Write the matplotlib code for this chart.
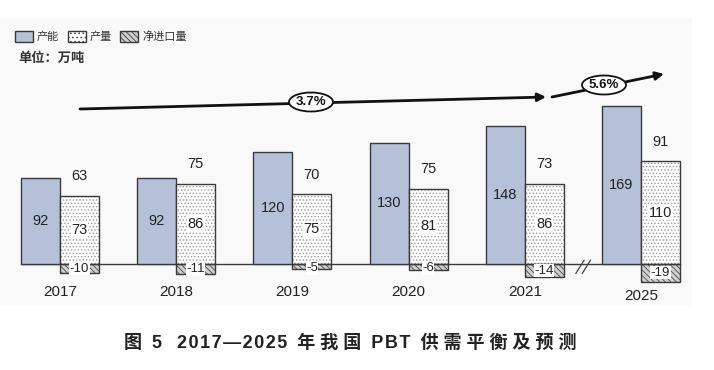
import numpy as np
import matplotlib
matplotlib.use('Agg')
import matplotlib.pyplot as plt
from matplotlib.patches import Ellipse, Rectangle

plt.rcParams['font.family'] = ['Liberation Sans', 'Noto Sans CJK SC', 'DejaVu Sans']
plt.rcParams['hatch.linewidth'] = 0.6

# data
years = ['2017', '2018', '2019', '2020', '2021', '2025']
capacity = [92, 92, 120, 130, 148, 169]       # 产能
output = [73, 86, 75, 81, 86, 110]            # 产量
net_import = [-10, -11, -5, -6, -14, -19]     # 净进口量
consumption = [63, 75, 70, 75, 73, 91]
cagr_labels = ['3.7%', '5.6%']

W, H = 714, 370
fig = plt.figure(figsize=(W / 100, H / 100), dpi=100)
fig.patch.set_facecolor('white')

ax = fig.add_axes([0, 0, 1, 1])
ax.set_facecolor('none')
# pixel -> data mapping: group boundary at 60 + 116.2*i px, baseline 264 px, 0.932 px per unit
x0, dx, base, k = 60, 116.2, 264, 0.932
ax.set_xlim(-x0 / dx, (W - x0) / dx)
ax.set_ylim(-(H - base) / k, base / k)
ax.axis('off')

# light panel behind the chart
ax.add_patch(Rectangle((0, (H - 305) / H), 692 / W, 287 / H, transform=fig.transFigure,
                       facecolor='#f9f9f9', edgecolor='none', zorder=0, clip_on=False))

x = np.arange(len(years))
w = 0.335
blue = '#b4c1d9'
edge = '#3a3a3a'
ni_face = '#d0d0d0'
ni_hatch = '\\\\\\\\\\\\'

ax.plot([x[0] - w, x[-1] + w], [0, 0], color=edge, lw=1.0, zorder=1)

ax.bar(x - w / 2, capacity, w, color=blue, edgecolor=edge, lw=1.0, zorder=3)
ax.bar(x + w / 2, output, w, color='white', edgecolor='#9a9a9a', hatch='.....', lw=0, zorder=3)
ax.bar(x + w / 2, output, w, color='none', edgecolor=edge, lw=1.0, zorder=4)
ax.bar(x + w / 2, net_import, w, color=ni_face, edgecolor='#4a4a4a', hatch=ni_hatch, lw=0, zorder=3)
ax.bar(x + w / 2, net_import, w, color='none', edgecolor=edge, lw=1.0, zorder=4)

fs = 10.5
for i in range(len(years)):
    ax.text(x[i] - w / 2, capacity[i] / 2, str(capacity[i]), ha='center', va='center',
            fontsize=fs, color='#222222', zorder=5)
    ax.text(x[i] + w / 2, output[i] / 2, str(output[i]), ha='center', va='center',
            fontsize=fs, color='#222222', zorder=5,
            bbox=dict(facecolor='white', edgecolor='none', pad=0.5))
    ax.text(x[i] + w / 2, output[i] + 21, str(consumption[i]), ha='center', va='center',
            fontsize=fs, color='#222222', zorder=5)
    ax.text(x[i] + w / 2, min(net_import[i] / 2, -4.5), str(net_import[i]), ha='center',
            va='center', fontsize=9.5, color='#222222', zorder=5,
            bbox=dict(facecolor='white', edgecolor='none', pad=0.3))
    yy = -30 if i < len(years) - 1 else -34
    ax.text(x[i], yy, years[i], ha='center', va='center', fontsize=11, color='#222222')

# axis break mark between 2021 and 2025
for off in (0, 0.055):
    ax.plot([4.44 + off, 4.51 + off], [-10, 4], color='#444444', lw=0.9)

# growth arrows
def pt(px, py):
    return ((px - x0) / dx, (base - py) / k)

arrows = [(pt(80, 109), pt(546, 97), pt(311, 102)),
          (pt(552, 97), pt(664, 74), pt(604, 85))]
for (s, e, c), lab in zip(arrows, cagr_labels):
    ax.annotate('', xy=e, xytext=s,
                arrowprops=dict(arrowstyle='-|>', lw=2.0, color='#111111',
                                mutation_scale=12, shrinkA=0, shrinkB=0), zorder=6)
    ax.add_patch(Ellipse(c, 44 / dx, 19 / k, facecolor='white', edgecolor='#111111',
                         lw=1.3, zorder=7))
    ax.text(c[0], c[1], lab, ha='center', va='center', fontsize=9.5, fontweight='bold',
            color='#111111', zorder=8)

# legend
leg = [('产能', dict(facecolor=blue, hatch=None)),
       ('产量', dict(facecolor='white', hatch='....')),
       ('净进口量', dict(facecolor=ni_face, hatch=ni_hatch))]
lx = [15, 68, 120]
for (name, st), px in zip(leg, lx):
    fig.patches.append(Rectangle((px / W, (H - 42) / H), 18 / W, 11 / H, transform=fig.transFigure,
                                 facecolor=st['facecolor'], hatch=st['hatch'],
                                 edgecolor=edge, lw=1.0, zorder=3))
    fig.text((px + 22) / W, (H - 36.5) / H, name, ha='left', va='center', fontsize=8,
             color='#333333')

fig.text(18 / W, (H - 59) / H, '单位：万吨', ha='left', va='center', fontsize=9.5,
         fontweight='bold', color='#333333')

# caption, with the loose letter spacing of the original
hair = '\u200a'
title = ('图  5   ' + hair.join('2017—2025') + '  ' + ' '.join('年我国') + '  '
         + hair.join('PBT') + '  ' + ' '.join('供需平衡及预测'))
fig.text(350 / W, (H - 343) / H, title, ha='center', va='center', fontsize=13,
         fontweight='bold', color='#222222')

fig.savefig('out.png', dpi=100)
